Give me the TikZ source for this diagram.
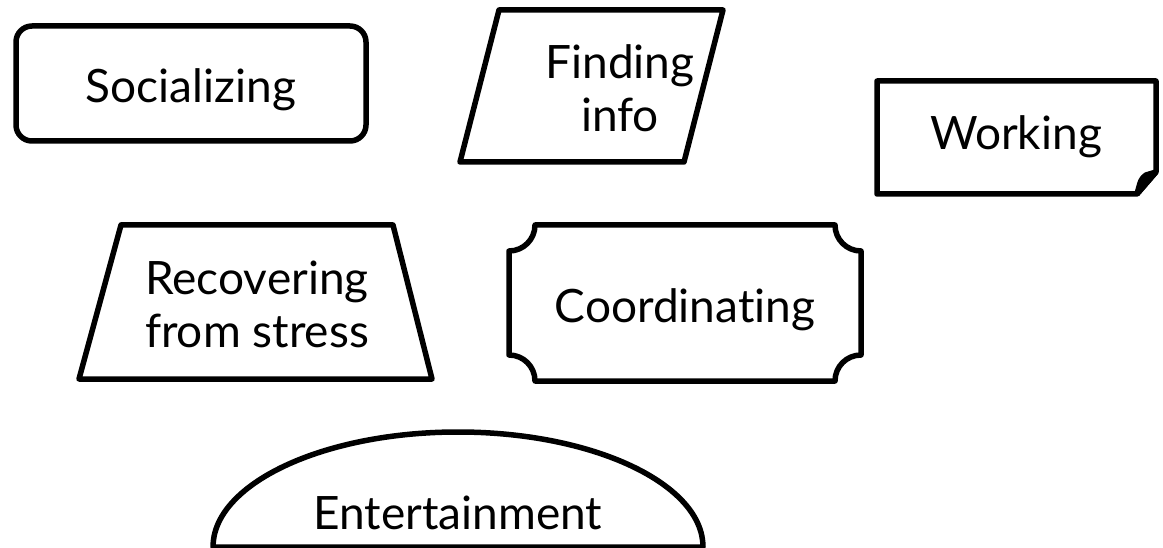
\documentclass[tikz,border=0pt]{standalone}
\usepackage{fontspec}
\setmainfont{Lato}[Ligatures=NoCommon]
\tikzset{
  shapeline/.style={line width=5.5pt, line join=round},
  boxtext/.style={font=\fontsize{46}{53}\selectfont, align=center, inner sep=0pt}
}
\begin{document}
\begin{tikzpicture}[x=1pt, y=-1pt]
      \useasboundingbox (0,0) rectangle (1163,548);
      \begin{scope}[shapeline]
        \draw[rounded corners=16] (16,26) rectangle (366,141);
        \draw (499,10) -- (723,10) -- (684,162) -- (460,162) -- cycle;
        \draw (877,81) -- (1156,81) -- (1156,172) -- (1137,194) -- (877,194) -- cycle;
        \draw[fill] (1137,194) -- (1156,172) -- (1146,175) .. controls (1141,179) .. (1137,194);
        \draw (121,225) -- (393,225) -- (432,379) -- (79,379) -- cycle;
        \draw (535,225) -- (835,225) .. controls (835,239.4) and (846.6,251) .. (861,251)
          -- (861,355) .. controls (846.6,355) and (835,366.6) .. (835,381)
          -- (535,381) .. controls (535,366.6) and (523.4,355) .. (509,355)
          -- (509,251) .. controls (523.4,251) and (535,239.4) .. (535,225) -- cycle;
        \draw (213,547) .. controls (213,484) and (322.7,432) .. (458,432)
          .. controls (593.3,432) and (703,484) .. (703,547) -- cycle;
      \end{scope}
      \node[boxtext, anchor=base] (soc) at (191,103) {Socializing};
      \node[boxtext, anchor=base] (find) at (620,132) {Finding\\info};
      \node[boxtext, anchor=base] (work) at (1016,150) {Working};
      \node[boxtext, anchor=base] (recov) at (257,348) {Recovering\\from stress};
      \node[boxtext, anchor=base] (coord) at (685,323) {Coordinating};
      \node[boxtext, anchor=base] (ent) at (458,529) {Entertainment};
    \end{tikzpicture}
\end{document}
